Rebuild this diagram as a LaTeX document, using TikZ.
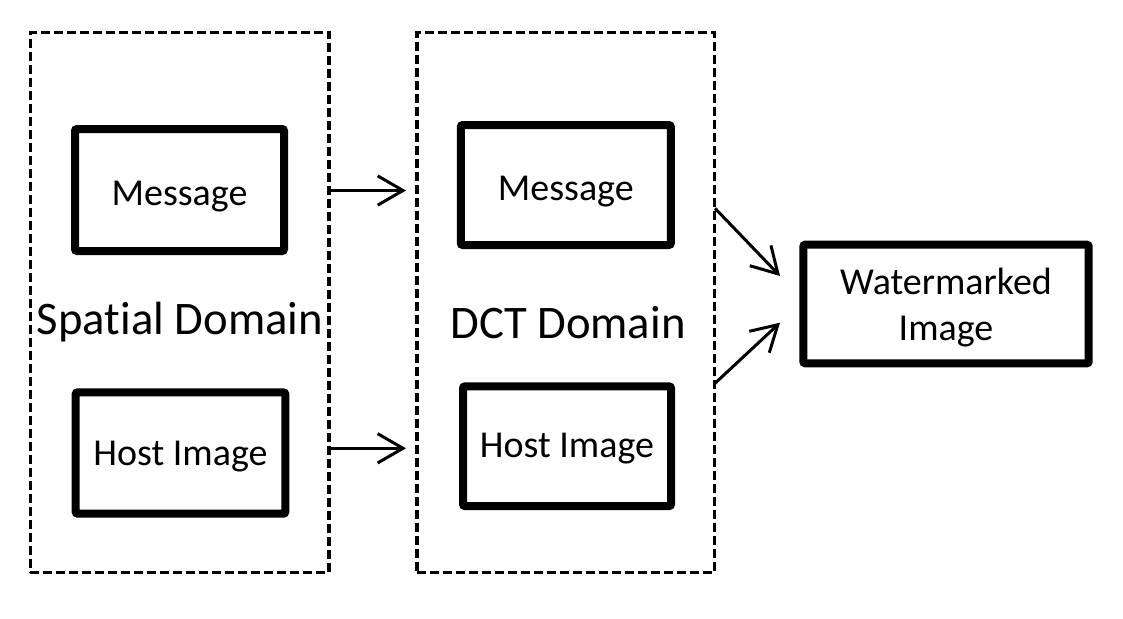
\documentclass[tikz,border=0pt]{standalone}
\usepackage{fontspec}
\setmainfont{Carlito}[Ligatures={NoCommon}]
\usetikzlibrary{arrows.meta}
\definecolor{fg}{HTML}{000000}

\tikzset{
  domainbox/.style={draw=fg, line width=2.5pt, dash pattern=on 6.75pt off 3pt, minimum width=223.9pt, minimum height=405pt, inner sep=0pt},
  blockbox/.style={draw=fg, line width=6pt, rounded corners=1.5pt, inner sep=0pt, align=center, text depth=0pt, font=\fontsize{28.5}{34.5}\selectfont},
  domainlabel/.style={font=\fontsize{35}{40}\selectfont, inner sep=0pt},
  arr/.style={draw=fg, line width=2.25pt, -{Straight Barb[length=19pt, width=22pt, line width=2.25pt]}}
}

\begin{document}
\begin{tikzpicture}[x=0.75pt, y=-0.75pt]
  \useasboundingbox (0,0) rectangle (1123,618);

  % domains
  \node[domainbox] (spatial) at (179.75,302.5) {};
  \node[domainbox, minimum width=223.1pt] (dct) at (565.75,302.5) {};
  \node[domainlabel] (spatiallbl) at (180,322) {Spatial Domain};
  \node[domainlabel] (dctlbl) at (568,323) {DCT Domain};

  % blocks
  \node[blockbox, minimum width=156.75pt, minimum height=91.5pt, text height=23.5pt] (msgA) at (179.5,190) {Message};
  \node[blockbox, minimum width=157.2pt, minimum height=91pt, text height=19pt] (hostA) at (180.5,453) {Host Image};
  \node[blockbox, minimum width=157.5pt, minimum height=90pt, text height=23.5pt] (msgB) at (565.8,185) {Message};
  \node[blockbox, minimum width=156pt, minimum height=89.8pt, text height=16.6pt] (hostB) at (567,446.2) {Host Image};
  \node[blockbox, minimum width=214pt, minimum height=89pt] (wm) at (946,304) {Watermarked\\Image};

  % arrow ends
  \coordinate (a1) at (406,190.5);
  \coordinate (a2) at (406,448.3);
  \coordinate (s3) at (715,208.3);
  \coordinate (a3) at (780,276);
  \coordinate (s4) at (715,383.3);
  \coordinate (a4) at (780,322.7);

  \draw[arr] (spatial.east |- a1) -- (a1);
  \draw[arr] (spatial.east |- a2) -- (a2);
  \draw[arr] (s3) -- (a3);
  \draw[arr] (s4) -- (a4);
\end{tikzpicture}
\end{document}
